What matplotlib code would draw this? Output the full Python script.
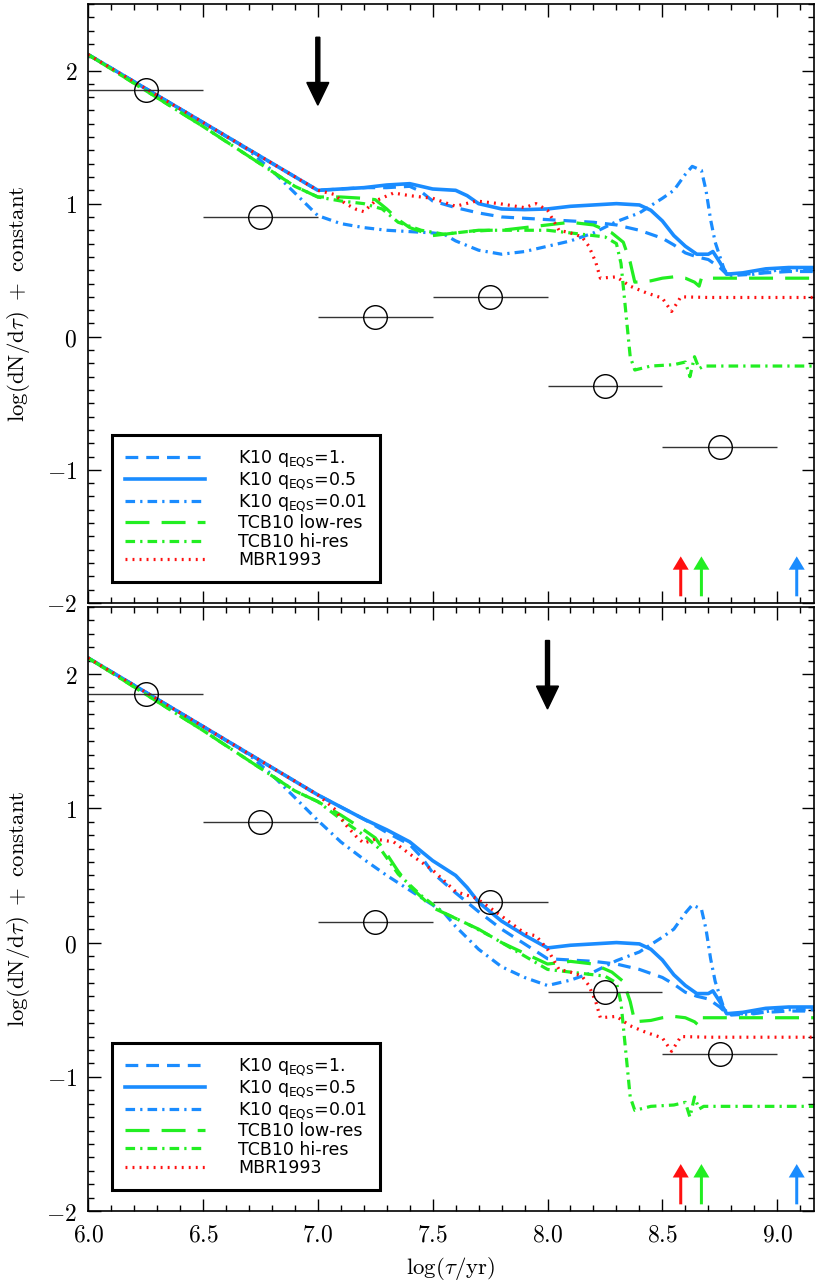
import numpy as np
import matplotlib
matplotlib.use('Agg')
import matplotlib.pyplot as plt
from matplotlib.ticker import MultipleLocator, FuncFormatter
from matplotlib.font_manager import FontProperties

plt.rcParams['mathtext.fontset'] = 'cm'

# ---- observed points (same in both panels) ----
obs_x = [6.25, 6.75, 7.25, 7.75, 8.25, 8.75]
obs_y = [1.85, 0.90, 0.15, 0.30, -0.37, -0.83]
obs_xerr = [0.25, 0.25, 0.25, 0.25, 0.25, 0.25]

# ---- top panel ----
k10a_x = [6.0, 6.5, 7.0, 7.1, 7.2, 7.3, 7.4, 7.45, 7.5, 7.6, 7.7, 7.8, 7.9, 8.0, 8.1, 8.2, 8.3, 8.4,
          8.5, 8.55, 8.6, 8.65, 8.7, 8.75, 8.78, 8.85, 8.95, 9.05, 9.16]
k10a_top = [2.12, 1.61, 1.10, 1.11, 1.12, 1.12, 1.13, 1.09, 1.02, 0.97, 0.93, 0.90, 0.89, 0.88, 0.87,
            0.86, 0.84, 0.80, 0.74, 0.69, 0.63, 0.60, 0.58, 0.52, 0.47, 0.47, 0.48, 0.49, 0.49]

k10b_x = [6.0, 6.5, 7.0, 7.1, 7.2, 7.3, 7.4, 7.5, 7.6, 7.65, 7.7, 7.8, 7.9, 8.0, 8.1, 8.2, 8.3, 8.4,
          8.45, 8.5, 8.55, 8.6, 8.65, 8.7, 8.72, 8.75, 8.78, 8.85, 8.95, 9.05, 9.16]
k10b_top = [2.12, 1.61, 1.10, 1.11, 1.12, 1.14, 1.15, 1.11, 1.10, 1.06, 1.00, 0.96, 0.955, 0.96, 0.98,
            0.99, 1.00, 0.99, 0.95, 0.87, 0.76, 0.68, 0.62, 0.62, 0.64, 0.56, 0.47, 0.48, 0.51, 0.52, 0.52]

k10c_x = [6.0, 6.5, 6.7, 6.8, 6.9, 7.0, 7.1, 7.2, 7.3, 7.4, 7.5, 7.55, 7.6, 7.7, 7.8, 7.9, 8.0, 8.1,
          8.2, 8.3, 8.4, 8.5, 8.55, 8.6, 8.63, 8.67, 8.69, 8.71, 8.73, 8.77, 8.8, 8.9, 9.0, 9.16]
k10c_top = [2.12, 1.61, 1.40, 1.25, 1.08, 0.91, 0.85, 0.82, 0.80, 0.79, 0.78, 0.77, 0.72, 0.65, 0.62,
            0.64, 0.68, 0.72, 0.78, 0.865, 0.93, 1.04, 1.10, 1.22, 1.28, 1.25, 1.10, 0.88, 0.71, 0.50,
            0.46, 0.47, 0.50, 0.50]

tlo_x = [6.0, 6.5, 6.9, 7.0, 7.1, 7.2, 7.25, 7.3, 7.35, 7.4, 7.5, 7.6, 7.7, 7.8, 7.9, 8.0, 8.1, 8.2,
         8.28, 8.33, 8.36, 8.38, 8.45, 8.5, 8.55, 8.6, 8.64, 8.66, 8.67, 9.16]
tlo_top = [2.12, 1.58, 1.13, 1.05, 1.05, 1.04, 1.03, 0.96, 0.88, 0.82, 0.76, 0.78, 0.80, 0.80, 0.82,
           0.84, 0.86, 0.84, 0.78, 0.71, 0.56, 0.41, 0.42, 0.44, 0.45, 0.44, 0.41, 0.38, 0.44, 0.44]

thi_x = [6.0, 6.5, 6.9, 7.0, 7.1, 7.2, 7.28, 7.35, 7.45, 7.55, 7.65, 7.75, 7.85, 7.95, 8.0, 8.1, 8.2,
         8.25, 8.3, 8.32, 8.34, 8.36, 8.38, 8.45, 8.55, 8.6, 8.62, 8.64, 8.66, 8.68, 9.16]
thi_top = [2.12, 1.58, 1.13, 1.05, 1.02, 1.00, 0.96, 0.86, 0.80, 0.77, 0.79, 0.80, 0.80, 0.80, 0.80,
           0.78, 0.76, 0.75, 0.70, 0.55, 0.20, -0.15, -0.25, -0.22, -0.21, -0.19, -0.30, -0.15, -0.24,
           -0.22, -0.22]

mbr_x = [6.0, 6.5, 7.0, 7.07, 7.12, 7.17, 7.2, 7.25, 7.33, 7.4, 7.5, 7.6, 7.69, 7.79, 7.9, 7.95, 8.0,
         8.02, 8.05, 8.1, 8.15, 8.18, 8.21, 8.23, 8.3, 8.36, 8.43, 8.5, 8.54, 8.57, 8.58, 8.7, 8.9, 9.16]
mbr_top = [2.12, 1.61, 1.10, 1.07, 1.00, 0.955, 0.94, 1.02, 1.08, 1.06, 1.04, 0.98, 1.02, 1.00, 0.97,
           1.00, 0.95, 0.89, 0.80, 0.78, 0.75, 0.68, 0.56, 0.44, 0.45, 0.38, 0.33, 0.29, 0.19, 0.27,
           0.30, 0.295, 0.295, 0.295]

# ---- bottom panel ----
k10a_bot = [2.12, 1.61, 1.10, 1.01, 0.92, 0.82, 0.73, 0.64, 0.52, 0.37, 0.23, 0.10, -0.01, -0.12, -0.13,
            -0.14, -0.16, -0.20, -0.26, -0.31, -0.37, -0.40, -0.42, -0.48, -0.53, -0.53, -0.52, -0.51, -0.51]
k10b_bot = [2.12, 1.61, 1.10, 1.01, 0.92, 0.84, 0.75, 0.61, 0.50, 0.41, 0.30, 0.16, 0.055, -0.04, -0.02,
            -0.01, 0.00, -0.01, -0.05, -0.13, -0.24, -0.32, -0.38, -0.38, -0.36, -0.44, -0.53, -0.52,
            -0.49, -0.48, -0.48]
k10c_bot = [2.12, 1.61, 1.40, 1.25, 1.08, 0.91, 0.75, 0.62, 0.50, 0.39, 0.28, 0.22, 0.12, -0.05, -0.18,
            -0.26, -0.32, -0.28, -0.22, -0.135, -0.07, 0.04, 0.10, 0.22, 0.28, 0.25, 0.10, -0.12, -0.29,
            -0.50, -0.54, -0.53, -0.50, -0.50]
tlo_bot = [2.12, 1.58, 1.13, 1.05, 0.95, 0.84, 0.78, 0.66, 0.53, 0.42, 0.26, 0.18, 0.10, 0.00, -0.08,
           -0.16, -0.14, -0.16, -0.22, -0.29, -0.44, -0.59, -0.58, -0.56, -0.55, -0.56, -0.59, -0.62,
           -0.56, -0.56]
thi_bot = [2.12, 1.58, 1.13, 1.05, 0.92, 0.80, 0.68, 0.51, 0.35, 0.22, 0.14, 0.05, -0.05, -0.15, -0.20,
           -0.22, -0.24, -0.25, -0.30, -0.45, -0.80, -1.15, -1.25, -1.22, -1.21, -1.19, -1.30, -1.15,
           -1.24, -1.22, -1.22]
mbr_bot = [2.12, 1.61, 1.10, 1.00, 0.88, 0.785, 0.74, 0.77, 0.75, 0.66, 0.54, 0.38, 0.33, 0.21, 0.07,
           0.05, -0.05, -0.11, -0.20, -0.22, -0.25, -0.32, -0.44, -0.56, -0.55, -0.62, -0.67, -0.71,
           -0.81, -0.73, -0.70, -0.705, -0.705, -0.705]

labels = [r'K10 $\mathrm{q}_{\mathrm{EQS}}$=1.', r'K10 $\mathrm{q}_{\mathrm{EQS}}$=0.5',
          r'K10 $\mathrm{q}_{\mathrm{EQS}}$=0.01', 'TCB10 low-res', 'TCB10 hi-res', 'MBR1993']

# timescale arrows
black_arrow_x = [7.0, 8.0]
color_arrow_x = [8.58, 8.67, 9.085]

blue = '#1a8cff'
green = '#22ee22'
red = '#ff1010'
styles = [(blue, (0, (4, 2.5)), 2.3), (blue, '-', 2.6), (blue, (0, (3, 1.6, 0.7, 1.6)), 2.3),
          (green, (0, (7.5, 3.8)), 2.3), (green, (0, (3, 1.6, 0.7, 1.6)), 2.3), (red, (0, (0.6, 1.6)), 2.3)]

legfont = FontProperties(family='DejaVu Sans', size=12.5, math_fontfamily='dejavusans')


def panel(ax, ys, arrow_x, show_x):
    xs = [k10a_x, k10b_x, k10c_x, tlo_x, thi_x, mbr_x]
    for x, y, (c, ls, lw), lab in zip(xs, ys, styles, labels):
        ax.plot(x, y, color=c, linestyle=ls, lw=lw, label=lab)
    ax.errorbar(obs_x, obs_y, xerr=obs_xerr, fmt='o', mfc='none', mec='k', ms=17, mew=1,
                ecolor='#333333', elinewidth=1, capsize=0)
    ax.arrow(arrow_x, 2.25, 0, -0.51, width=4.0 / 230, head_width=22.0 / 230, head_length=0.17,
             length_includes_head=True, color='k')
    for xa, c in zip(color_arrow_x, [red, green, blue]):
        ax.arrow(xa, -1.95, 0, 0.30, width=3.0 / 230, head_width=16.0 / 230, head_length=0.1,
                 length_includes_head=True, color=c, lw=0)
    ax.set_xlim(6.0, 9.16)
    ax.set_ylim(-2.0, 2.5)
    ax.xaxis.set_major_locator(MultipleLocator(0.5))
    ax.xaxis.set_minor_locator(MultipleLocator(0.1))
    ax.yaxis.set_major_locator(MultipleLocator(1))
    ax.yaxis.set_minor_locator(MultipleLocator(0.1))
    ax.tick_params(which='both', direction='in', top=True, right=True, labelsize=17, width=1)
    ax.tick_params(which='major', length=9, pad=8)
    ax.tick_params(which='minor', length=4.5)
    ax.xaxis.set_major_formatter(FuncFormatter(lambda v, p: '$%.1f$' % v))
    ax.yaxis.set_major_formatter(FuncFormatter(lambda v, p: '$%d$' % round(v)))
    if not show_x:
        ax.tick_params(labelbottom=False)
    for s in ax.spines.values():
        s.set_linewidth(1.2)
    ax.set_ylabel(r'$\mathrm{log(dN/d}\tau\mathrm{)\ +\ constant}$', fontsize=16.5, labelpad=10)
    leg = ax.legend(loc='lower left', bbox_to_anchor=(0.033, 0.035), borderaxespad=0, prop=legfont,
                    handlelength=4.6, handletextpad=1.9, borderpad=0.75, labelspacing=0.02,
                    fancybox=False, framealpha=1, edgecolor='k')
    leg.get_frame().set_linewidth(2.2)


fig = plt.figure(figsize=(8.16, 12.81), dpi=100)
ax1 = fig.add_axes([0.108, 0.5293, 0.8895, 0.4676])
ax2 = fig.add_axes([0.108, 0.0546, 0.8895, 0.4716])

panel(ax1, [k10a_top, k10b_top, k10c_top, tlo_top, thi_top, mbr_top], black_arrow_x[0], False)
panel(ax2, [k10a_bot, k10b_bot, k10c_bot, tlo_bot, thi_bot, mbr_bot], black_arrow_x[1], True)
ax2.set_xlabel(r'$\mathrm{log(}\tau\mathrm{/yr)}$', fontsize=16.5, labelpad=6)

plt.savefig('out.png', dpi=100)
